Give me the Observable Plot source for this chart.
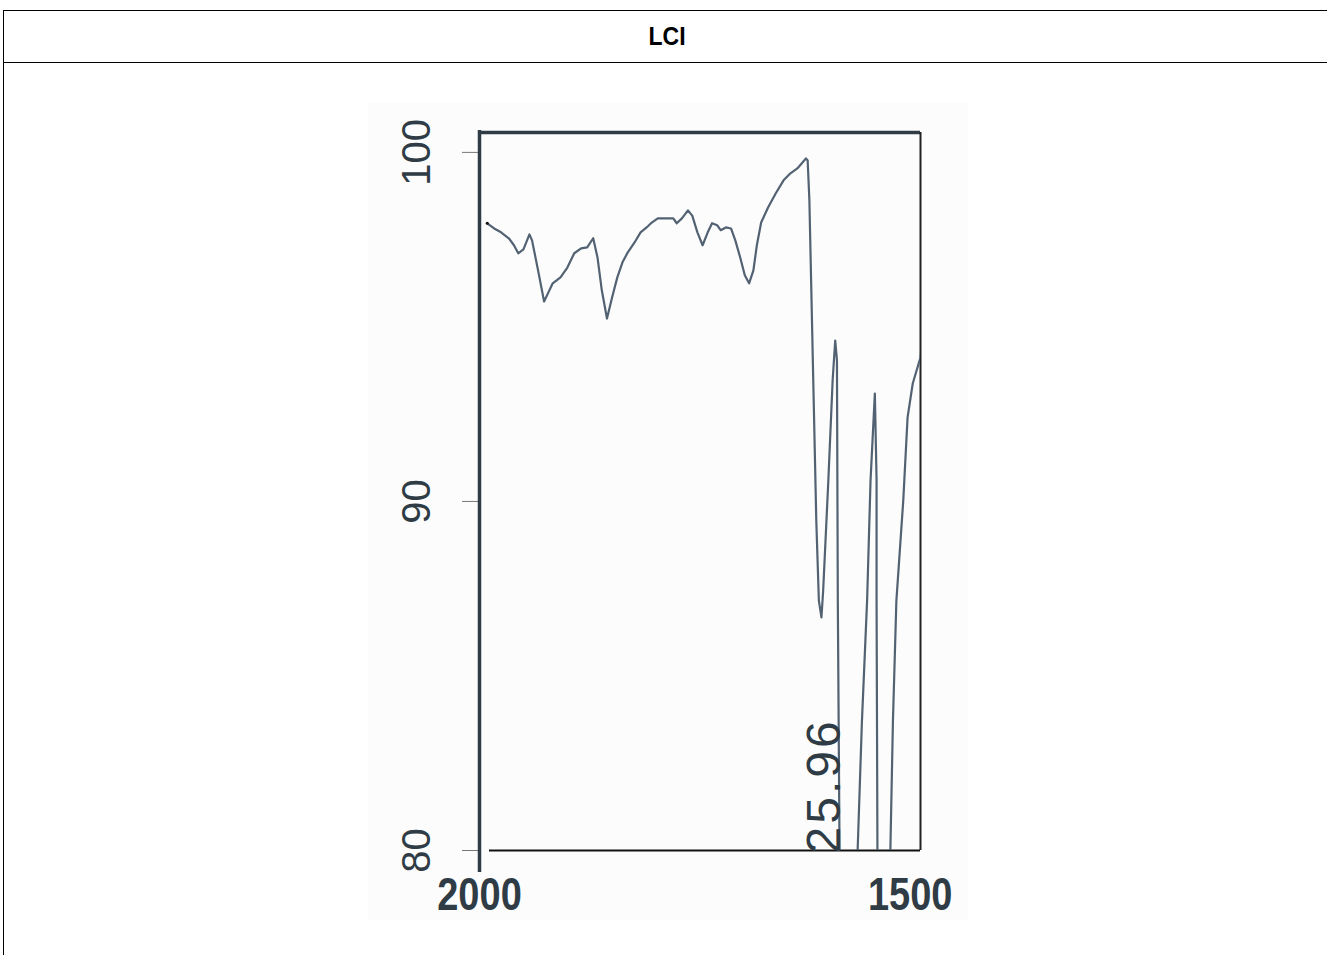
<!DOCTYPE html>
<html><head><meta charset="utf-8">
<script src="https://cdn.jsdelivr.net/npm/d3@7"></script>
<script src="https://cdn.jsdelivr.net/npm/@observablehq/plot@0.6"></script>
<style>
html,body{margin:0;padding:0;width:1327px;height:955px;overflow:hidden;background:#fff;font-family:"Liberation Sans",Arial,sans-serif;}
#table{position:absolute;left:3px;top:10px;width:1326px;height:960px;border-left:1px solid #000;border-top:1px solid #000;}
#head{height:51px;border-bottom:1px solid #000;display:flex;align-items:center;justify-content:center;font-weight:bold;font-size:23px;color:#000;}
#head span{display:inline-block;transform:scaleY(1.15);}
#chart{position:absolute;left:368px;top:103px;}
</style></head><body>
<div id="table"><div id="head"><span>LCI</span></div></div>
<div id="chart"></div>
<script>
// Wavenumber (cm-1) and transmittance (%)
const wavenumber = [1991,1983,1975,1966,1960,1955,1949,1942,1939,1932,1925,1920,1915,1906,1898,1890,1882,1875,1868,1863,1858,1852,1846,1840,1834,1828,1820,1813,1806,1800,1793,1784,1775,1771,1765,1758,1753,1747,1741,1735,1730,1724,1720,1714,1708,1703,1697,1692,1687,1682,1678,1673,1665,1656,1647,1639,1631,1626,1621,1619,1617,1615,1612,1609,1606,1603,1601,1595,1590,1587,1585,1584,1582,1572,1561,1556,1550,1546,1541,1539,1539,1538,1530,1523,1520,1516,1508,1503,1497,1488,1486];
const transmittance = [97.97,97.82,97.71,97.54,97.34,97.11,97.22,97.65,97.48,96.62,95.73,95.99,96.25,96.42,96.70,97.11,97.25,97.28,97.54,96.99,96.05,95.24,95.85,96.42,96.85,97.13,97.42,97.71,97.85,97.99,98.11,98.11,98.11,97.97,98.11,98.34,98.19,97.71,97.34,97.71,97.97,97.91,97.77,97.85,97.82,97.48,96.96,96.48,96.25,96.62,97.34,97.99,98.42,98.83,99.20,99.40,99.54,99.68,99.83,99.77,98.62,96.33,92.89,89.46,87.16,86.68,87.45,90.60,93.47,94.61,94.04,87.16,80.00,25.96,80.00,83.70,87.16,90.60,93.09,90.60,87.16,80.00,40.00,80.00,83.70,87.16,90.03,92.41,93.38,94.13,94.61];

const xTicks = [2000, 1500];
const yTicks = [100, 90, 80];
const xDomain = [2000, 1488];
const yDomain = [80, 100.57];
const peakLabels = ["25.96"];
const peakLabelX = [1582];
const peakLabelY = [80];

const data = wavenumber.map((w, i) => ({w, t: transmittance[i]}));
const labels = peakLabels.map((s, i) => ({s, x: peakLabelX[i], y: peakLabelY[i]}));

const ink = "#2f3c46";
const chart = Plot.plot({
  width: 600,
  height: 817,
  marginLeft: 111,
  marginRight: 48,
  marginTop: 29,
  marginBottom: 70,
  style: {background: "#fcfcfc", fontFamily: "'Liberation Sans', Arial, sans-serif", color: ink},
  x: {domain: xDomain, label: null},
  y: {domain: yDomain, label: null},
  marks: [
    Plot.axisY(yTicks, {tickSize: 17, tickPadding: 33, tickRotate: -90, fontSize: 40, stroke: "#777", strokeWidth: 1, fill: ink, label: null}),
    Plot.axisX(xTicks, {tickSize: 0, tickPadding: 27, fontSize: 38, fontWeight: "bold", fill: ink, label: null, tickFormat: d => String(d)}),
    Plot.ruleY([yDomain[1]], {stroke: ink, strokeWidth: 3.5}),
    Plot.ruleX([xDomain[1]], {stroke: "#222", strokeWidth: 2}),
    Plot.ruleY([yDomain[0]], {stroke: "#111", strokeWidth: 2, insetLeft: 10}),
    Plot.ruleX([xDomain[0]], {stroke: ink, strokeWidth: 3.5, insetTop: -2, insetBottom: -22}),
    Plot.line(data, {x: "w", y: "t", stroke: "#526272", strokeWidth: 2.2, clip: true}),
    Plot.dot(data.slice(0, 1), {x: "w", y: "t", r: 1.5, fill: "#111"}),
    Plot.text(labels, {x: "x", y: "y", text: "s", rotate: -90, textAnchor: "start", lineAnchor: "bottom", fontSize: 48, dy: 3, fill: ink})
  ]
});
// the scanned print uses a slightly condensed, tall bold face for the x labels
d3.select(chart).selectAll('g[aria-label="x-axis tick label"] text').each(function() {
  const t = this.getAttribute("transform") || "";
  this.setAttribute("transform", t + " scale(1,1.2)");
});
d3.select(chart).selectAll('g[aria-label="text"] text').style("letter-spacing", "3px");
document.getElementById("chart").appendChild(chart);
</script>
</body></html>
